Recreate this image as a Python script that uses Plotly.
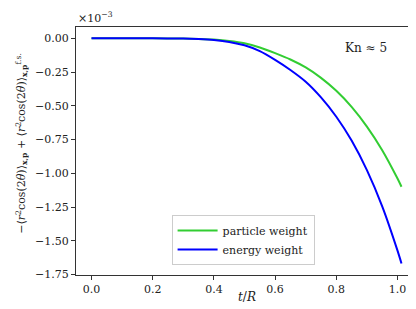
import plotly.graph_objects as go

t_vals = [0.0, 0.1, 0.2, 0.3, 0.35, 0.4, 0.45, 0.5, 0.55, 0.6, 0.65, 0.7, 0.75, 0.8, 0.85, 0.9, 0.95, 1.0, 1.013]
particle_weight = [0.0, 0.0, -0.0003, -0.002, -0.005, -0.010, -0.020, -0.037, -0.068, -0.110, -0.157, -0.216, -0.293, -0.389, -0.508, -0.654, -0.829, -1.039, -1.100]
energy_weight = [0.0, 0.0, -0.0003, -0.002, -0.006, -0.013, -0.027, -0.052, -0.095, -0.160, -0.235, -0.322, -0.438, -0.581, -0.758, -0.977, -1.245, -1.573, -1.668]

y_ticks = [0.0, -0.25, -0.5, -0.75, -1.0, -1.25, -1.5, -1.75]
x_ticks = [0.0, 0.2, 0.4, 0.6, 0.8, 1.0]

font = "DejaVu Serif"

fig = go.Figure()
fig.add_trace(go.Scatter(x=t_vals, y=particle_weight, mode="lines", name="particle weight",
                         line=dict(color="#32cd32", width=2, shape="spline", smoothing=0.8)))
fig.add_trace(go.Scatter(x=t_vals, y=energy_weight, mode="lines", name="energy weight",
                         line=dict(color="#0000ff", width=2, shape="spline", smoothing=0.8)))

axis_common = dict(showgrid=False, zeroline=False, showline=True, linecolor="#333333", linewidth=1,
                   mirror=True, ticks="outside", ticklen=4, tickcolor="#333333",
                   tickfont=dict(family=font, size=11, color="#222222"))

fig.update_xaxes(range=[-0.0507, 1.0637], tickvals=x_ticks, ticktext=[f"{v:.1f}" for v in x_ticks], **axis_common)
fig.update_yaxes(range=[-1.7535, 0.0835], tickvals=y_ticks,
                 ticktext=[("\u2212" if v < 0 else "") + f"{abs(v):.2f}" for v in y_ticks], **axis_common)

fig.update_layout(
    width=416, height=309,
    margin=dict(l=68, r=7, t=19, b=42),
    plot_bgcolor="white", paper_bgcolor="white",
    font=dict(family=font, size=11, color="#222222"),
    legend=dict(x=0.49, y=0.04, xanchor="center", yanchor="bottom",
                bgcolor="rgba(255,255,255,0.8)", bordercolor="#cccccc", borderwidth=1,
                font=dict(family=font, size=11), tracegroupgap=0, itemwidth=40),
    showlegend=True,
)

fig.add_annotation(text="\u00d710<sup>\u22123</sup>", xref="paper", yref="paper", x=0, y=1.0,
                   xanchor="left", yanchor="bottom", showarrow=False, font=dict(family=font, size=11))
fig.add_annotation(text="Kn \u2248 5", xref="x", yref="y", x=0.896, y=-0.07,
                   showarrow=False, font=dict(family=font, size=12))
fig.add_annotation(text="<i>t</i>/<i>R</i>", xref="paper", yref="paper", x=0.5, y=-0.09,
                   xanchor="center", yanchor="middle", showarrow=False, font=dict(family=font, size=12))
fig.add_annotation(text="\u2212\u27e8<i>r</i><sup>2</sup>cos(2<i>\u03b8</i>)\u27e9<sub><b>x</b>,<b>p</b></sub> + \u27e8<i>r</i><sup>2</sup>cos(2<i>\u03b8</i>)\u27e9<sub><b>x</b>,<b>p</b></sub><sup>f.s.</sup>",
                   xref="paper", yref="paper", x=-0.161, y=0.53, textangle=-90,
                   xanchor="center", yanchor="middle", showarrow=False, font=dict(family=font, size=11))

fig.write_html("out.html")
